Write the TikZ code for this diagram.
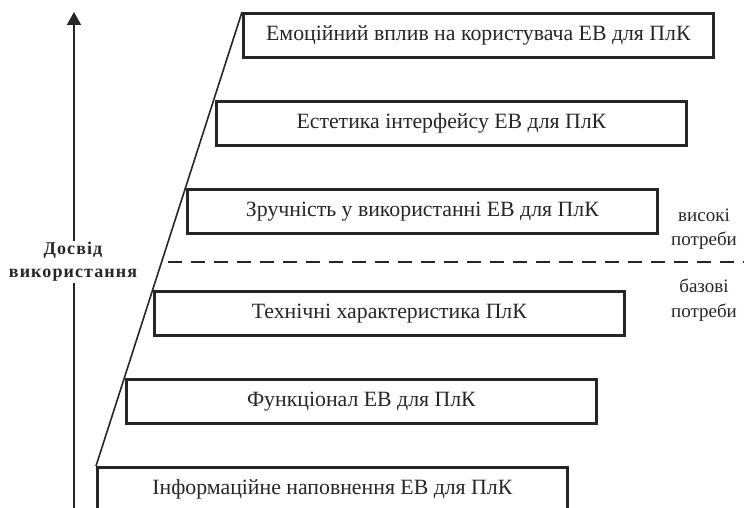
\documentclass[tikz,border=0pt]{standalone}
\usepackage{fontspec}
\setmainfont{Liberation Serif}
\usetikzlibrary{arrows.meta}
\begin{document}
\begin{tikzpicture}[x=1pt,y=-1pt,
  levelbox/.style={draw=black!85,line width=2.8pt,minimum width=470pt,minimum height=44pt,anchor=north west,inner sep=0pt,font=\fontsize{21.8}{26}\selectfont,text=black!85},
  sidelabel/.style={font=\fontsize{19}{24.5}\selectfont,align=center,text=black!85},
  axislabel/.style={font=\bfseries\fontsize{18}{23}\selectfont\addfontfeature{LetterSpace=6},align=center,fill=white,inner sep=1pt,text=black!85}]
\useasboundingbox (0,0) rectangle (744,508);
\node[levelbox] (b1) at (242,12) {Емоційний вплив на користувача ЕВ для ПлК};
\node[levelbox] (b2) at (215,100) {Естетика інтерфейсу ЕВ для ПлК};
\node[levelbox] (b3) at (186,188) {Зручність у використанні ЕВ для ПлК};
\node[levelbox] (b4) at (153,290) {Технічні характеристика ПлК};
\node[levelbox] (b5) at (125,378) {Функціонал ЕВ для ПлК};
\node[levelbox] (b6) at (96,466) {Інформаційне наповнення ЕВ для ПлК};
\coordinate (d1) at (168,262);
\coordinate (d2) at (744,262);
\draw[line width=1.6pt,black!85,dash pattern=on 14pt off 9pt] (d1) -- (d2);
\draw[line width=1.6pt,black!85] (b1.north west) -- (b6.north west);
\coordinate (a0) at (74,512);
\coordinate (a1) at (74,12);
\draw[line width=1.6pt,black!85,-{Triangle[length=13pt,width=14pt]}] (a0) -- (a1);
\node[axislabel] (ax) at (73,262) {Досвід\\використання};
\node[sidelabel] (hi) at (704,229) {високі\\потреби};
\node[sidelabel] (lo) at (704,300) {базові\\потреби};
\end{tikzpicture}
\end{document}
